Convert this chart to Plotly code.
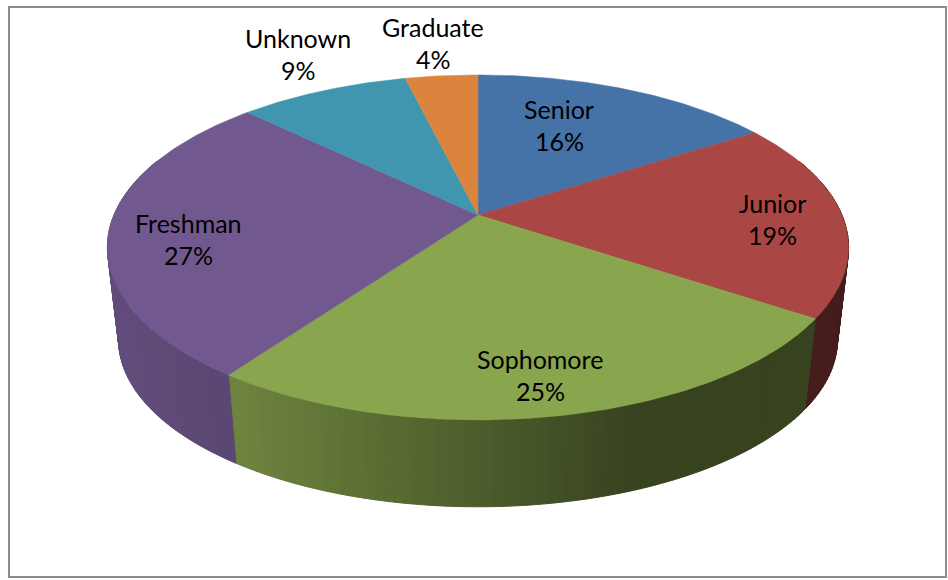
import numpy as np
import plotly.graph_objects as go

categories = ["Senior", "Junior", "Sophomore", "Freshman", "Unknown", "Graduate"]
shares = [15.8, 18.6, 25.4, 27.4, 8.9, 3.8]
colors = ["#4572a7", "#aa4643", "#89a54e", "#71588f", "#4096ae", "#db843d"]

W, H = 948, 580
FONT = "Lato, Carlito, Calibri, sans-serif"
FS = 25
CX, CY, RX, RY, P = 478.0, 215.0, 364.0, 166.4, 0.188
BX, BY, BRX, BRY = 478.0, 308.5, 353.0, 161.0

label_pos = {
    "Senior": (559, 109, 141), "Junior": (772, 203, 235),
    "Sophomore": (540, 359, 391), "Freshman": (188, 223, 255),
    "Unknown": (298, 38, 70), "Graduate": (433, 27, 59),
}


def rim(theta, cx, cy, rx, ry):
    u, v = np.sin(theta), -np.cos(theta)
    w = 1 - P * v
    return cx + rx * u / w, cy + ry * v / w


def shade(hex_color, k):
    r, g, b = (int(hex_color[i:i + 2], 16) for i in (1, 3, 5))
    return f"rgb({r * k:.0f},{g * k:.0f},{b * k:.0f})"


def side_k(x):
    return float(np.interp(x, [105, 232, 640, 860], [0.86, 0.80, 0.40, 0.40]))


fig = go.Figure()
edges = np.cumsum([0.0] + shares) / sum(shares) * 2 * np.pi

# side walls
for i, col in enumerate(colors):
    a0, a1 = edges[i], edges[i + 1]
    vis0, vis1 = max(a0, np.radians(70)), min(a1, np.radians(290))
    if vis1 <= vis0:
        continue
    n = max(2, int(np.degrees(vis1 - vis0) / 1.2))
    t = np.linspace(vis0, vis1, n + 1)
    for j in range(n):
        tt = np.array([t[j], t[j + 1]])
        x1, y1 = rim(tt, CX, CY, RX, RY)
        x2, y2 = rim(tt[::-1], BX, BY, BRX, BRY)
        c = shade(col, side_k(x1.mean()))
        fig.add_trace(go.Scatter(
            x=list(x1) + list(x2) + [x1[0]], y=list(y1) + list(y2) + [y1[0]],
            mode="lines", fill="toself", fillcolor=c,
            line=dict(color=c, width=1), hoverinfo="skip", showlegend=False))

# top faces
for i, col in enumerate(colors):
    t = np.linspace(edges[i], edges[i + 1], 120)
    x, y = rim(t, CX, CY, RX, RY)
    fig.add_trace(go.Scatter(
        x=[CX] + list(x) + [CX], y=[CY] + list(y) + [CY],
        mode="lines", fill="toself", fillcolor=col,
        line=dict(color=col, width=0.5), name=categories[i],
        hoverinfo="skip", showlegend=False))

annotations = []
for name, share in zip(categories, shares):
    lx, y1, y2 = label_pos[name]
    for txt, yy in ((name, y1), (f"{round(share)}%", y2)):
        annotations.append(dict(x=lx, y=yy, text=txt, showarrow=False, xanchor="center",
                                yanchor="middle", font=dict(family=FONT, size=FS, color="#000000")))

fig.update_layout(
    width=W, height=H, margin=dict(l=0, r=0, t=0, b=0),
    paper_bgcolor="white", plot_bgcolor="white", showlegend=False,
    xaxis=dict(range=[0, W], visible=False, fixedrange=True),
    yaxis=dict(range=[H, 0], visible=False, fixedrange=True),
    annotations=annotations,
    shapes=[dict(type="rect", x0=9, y0=7, x1=946, y1=577,
                 line=dict(color="#8c8c8c", width=2), fillcolor="rgba(0,0,0,0)", layer="below")],
)
fig.write_html("out.html", config={"displayModeBar": False},
               post_script="document.body.style.margin='0';document.body.style.overflow='hidden';")
